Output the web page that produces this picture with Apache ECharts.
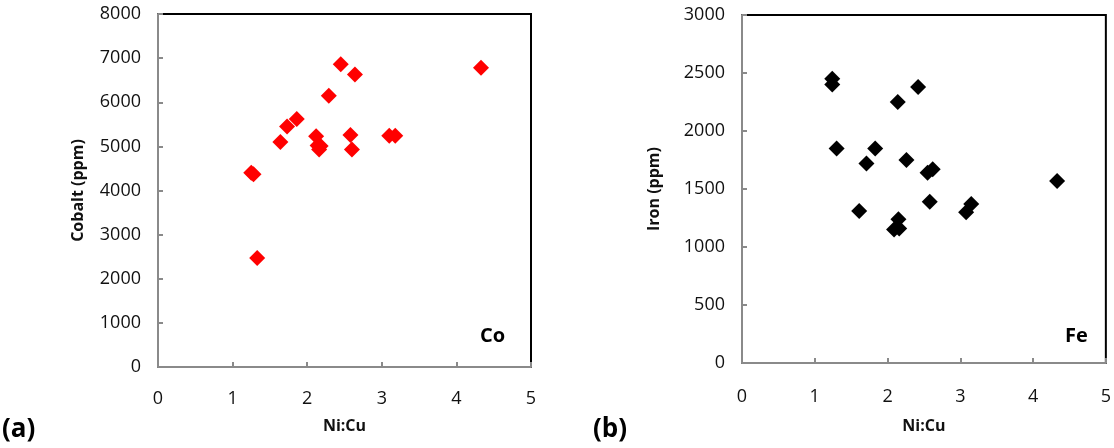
<!DOCTYPE html>
<html><head><meta charset="utf-8">
<script src="https://cdn.jsdelivr.net/npm/echarts@6/dist/echarts.min.js"></script>
<style>html,body{margin:0;padding:0;background:#fff}#c{width:1114px;height:448px}</style>
</head><body><div id="c"></div>
<script>
// Ni:Cu ratios and concentrations (ppm)
const coNiCu = [1.25, 1.28, 1.33, 1.64, 1.73, 1.86, 2.12, 2.14, 2.18, 2.16, 2.29, 2.45, 2.64, 2.58, 2.60, 3.10, 3.18, 4.33];
const coPpm  = [4400, 4370, 2470, 5100, 5450, 5620, 5230, 5020, 5010, 4930, 6150, 6860, 6630, 5260, 4930, 5240, 5240, 6780];
const feNiCu = [1.24, 1.24, 1.30, 1.61, 1.71, 1.83, 2.09, 2.14, 2.15, 2.16, 2.26, 2.42, 2.55, 2.58, 2.62, 3.08, 3.15, 4.33];
const fePpm  = [2450, 2400, 1850, 1310, 1720, 1850, 1150, 2250, 1240, 1160, 1750, 2380, 1640, 1390, 1670, 1300, 1370, 1570];
const xTicks = [0, 1, 2, 3, 4, 5];

const font = 'Open Sans';
const grids = [
  {left: 158, top: 14, width: 373, height: 353},
  {left: 742, top: 15, width: 366, height: 348}
];
function xAx(i, margin, gap){
  return {type:'value', gridIndex:i, min:xTicks[0], max:xTicks[xTicks.length-1], interval:1,
    name:'Ni:Cu', nameLocation:'middle', nameGap:gap,
    nameTextStyle:{fontFamily:font, fontWeight:'bold', fontSize:16, color:'#111'},
    axisLine:{show:true, lineStyle:{color:'#8a8a8a', width:2}},
    axisTick:{show:true, inside:true, length:5, lineStyle:{color:'#8a8a8a', width:2}},
    axisLabel:{fontFamily:font, fontSize:18, color:'#111', margin:margin, formatter: v => String(v)},
    splitLine:{show:false}};
}
function yAx(i, name, max, interval, gap){
  return {type:'value', gridIndex:i, min:0, max:max, interval:interval,
    name:name, nameLocation:'middle', nameGap:gap,
    nameTextStyle:{fontFamily:font, fontWeight:'bold', fontSize:16, color:'#111'},
    axisLine:{show:true, lineStyle:{color:'#8a8a8a', width:2}},
    axisTick:{show:true, inside:true, length:5, lineStyle:{color:'#8a8a8a', width:2}},
    axisLabel:{fontFamily:font, fontSize:18, color:'#111', margin:17, formatter: v => String(v)},
    splitLine:{show:false}};
}
const chart = echarts.init(document.getElementById('c'), null, {renderer:'canvas'});
chart.setOption({
  animation:false,
  backgroundColor:'#fff',
  grid: grids.map(g => Object.assign({show:true, borderColor:'#000', borderWidth:2, backgroundColor:'transparent'}, g)),
  xAxis:[xAx(0, 23, 51), xAx(1, 25, 55)],
  yAxis:[yAx(0,'Cobalt (ppm)',8000,1000,72), yAx(1,'Iron (ppm)',3000,500,80)],
  series:[
    {type:'scatter', xAxisIndex:0, yAxisIndex:0, symbol:'diamond', symbolSize:16,
     itemStyle:{color:'#ff0000', opacity:1}, data: coNiCu.map((x,i)=>[x, coPpm[i]])},
    {type:'scatter', xAxisIndex:1, yAxisIndex:1, symbol:'diamond', symbolSize:16,
     itemStyle:{color:'#000', opacity:1}, data: feNiCu.map((x,i)=>[x, fePpm[i]])}
  ],
  graphic:[
    {type:'text', left:480, top:326, style:{text:'Co', font:'bold 20px "Open Sans"', fill:'#000'}},
    {type:'text', left:1065, top:326, style:{text:'Fe', font:'bold 20px "Open Sans"', fill:'#000'}},
    {type:'text', left:2, top:417, style:{text:'(a)', font:'bold 26px "Open Sans"', fill:'#000'}},
    {type:'text', left:593, top:417, style:{text:'(b)', font:'bold 26px "Open Sans"', fill:'#000'}}
  ]
});
</script></body></html>
